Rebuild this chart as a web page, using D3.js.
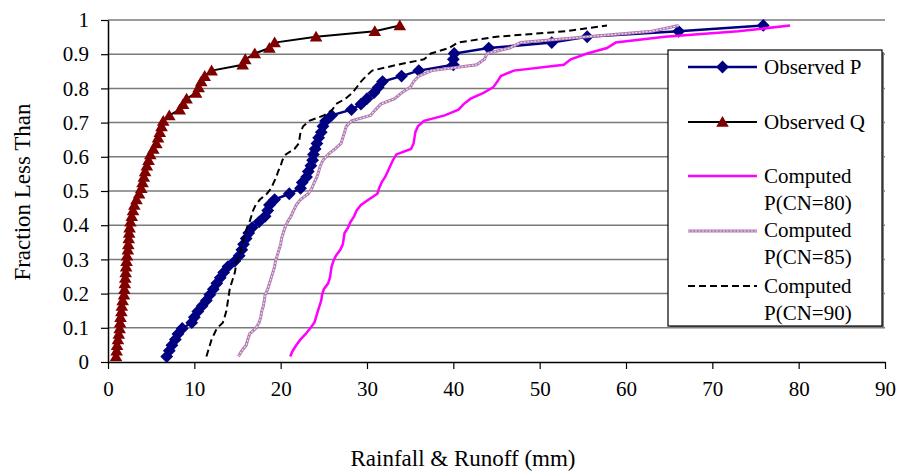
<!DOCTYPE html>
<html><head><meta charset="utf-8">
<script src="https://cdn.jsdelivr.net/npm/d3@7"></script>
<style>body{margin:0;background:#fff} svg{display:block}</style>
</head><body><svg id="c" width="902" height="473"></svg>
<script>
const fractions = [0.016,0.033,0.049,0.066,0.082,0.098,0.115,0.131,0.148,0.164,
  0.180,0.197,0.213,0.230,0.246,0.262,0.279,0.295,0.311,0.328,
  0.344,0.361,0.377,0.393,0.410,0.426,0.443,0.459,0.475,0.492,
  0.508,0.525,0.541,0.557,0.574,0.590,0.607,0.623,0.639,0.656,
  0.672,0.689,0.705,0.721,0.738,0.754,0.770,0.787,0.803,0.820,
  0.836,0.852,0.869,0.885,0.902,0.918,0.934,0.951,0.967,0.984];
const observedP = [6.8,7.1,7.4,7.8,8.1,8.6,9.7,10.0,10.4,10.9,
  11.4,11.8,12.2,12.6,13.0,13.4,13.9,14.7,15.2,15.5,
  15.7,16.0,16.3,16.7,17.5,18.2,18.5,18.7,19.3,21.0,
  22.3,22.5,23.0,23.2,23.5,23.7,23.8,24.0,24.2,24.4,
  24.7,24.9,25.2,25.9,28.2,29.3,30.0,30.8,31.3,31.8,
  34.0,36.0,40.0,40.0,40.1,44.1,51.4,55.5,66.1,75.9];
const observedQ = [0.93,1.0,1.05,1.15,1.25,1.35,1.4,1.45,1.55,1.6,
  1.7,1.85,1.9,1.95,2.0,2.05,2.1,2.15,2.2,2.3,
  2.35,2.4,2.45,2.5,2.6,2.75,2.9,3.05,3.3,3.6,
  3.85,4.0,4.15,4.3,4.5,4.7,4.9,5.25,5.6,5.8,
  6.0,6.2,6.4,7.1,8.3,8.7,9.1,10.2,10.5,10.8,
  11.2,12.0,15.6,15.9,17.0,18.7,19.3,24.1,30.9,33.8];
const computedCN80 = [21.1,21.4,21.8,22.3,22.9,23.4,23.9,24.1,24.3,24.5,
  24.7,24.8,25.0,25.5,25.7,25.8,25.9,26.1,26.4,26.9,
  27.2,27.3,27.4,27.8,28.1,28.5,28.8,29.3,30.2,31.2,
  31.4,31.7,32.1,32.4,32.7,33.0,33.4,35.1,35.4,35.5,
  35.6,35.9,36.6,39.0,40.6,41.2,42.0,43.5,44.6,45.1,
  45.5,47.0,52.8,53.6,55.5,57.8,58.8,64.5,73.0,79.0];
const computedCN85 = [15.1,15.5,16.0,16.2,16.4,17.1,17.5,17.7,17.8,18.0,
  18.1,18.2,18.5,18.7,18.9,19.1,19.3,19.4,19.6,19.8,
  20.0,20.1,20.3,20.5,20.8,21.2,21.5,21.8,22.3,23.2,
  23.6,23.9,24.2,24.4,24.6,24.9,25.5,26.3,27.0,27.2,
  27.4,27.6,28.2,30.4,31.0,31.6,33.2,34.0,35.0,35.4,
  36.0,37.5,42.7,43.6,43.9,46.5,47.8,55.5,63.0,66.1];
const computedCN90 = [11.4,11.6,11.8,12.0,12.3,12.6,13.3,13.5,13.7,13.8,
  13.9,14.0,14.1,14.3,14.5,14.7,14.8,14.9,15.2,15.4,
  15.6,15.7,15.9,16.1,16.4,16.6,16.8,17.1,17.6,18.4,
  18.9,19.2,19.5,19.7,20.0,20.2,20.6,21.6,22.1,22.2,
  22.3,22.6,23.3,25.0,26.0,26.4,27.5,28.3,28.8,29.3,
  29.9,30.6,33.5,36.6,37.4,39.5,40.5,45.0,53.0,57.8];
const xTicks = [0,10,20,30,40,50,60,70,80,90];
const yTicks = [0,0.1,0.2,0.3,0.4,0.5,0.6,0.7,0.8,0.9,1];
const seriesNames = ["Observed P","Observed Q","Computed P(CN=80)","Computed P(CN=85)","Computed P(CN=90)"];
const xTitle = "Rainfall & Runoff (mm)";
const yTitle = "Fraction Less Than";

const FONT = "'Liberation Serif','Times New Roman',serif";
const svg = d3.select("#c");
const x = d3.scaleLinear().domain([0,90]).range([108,885]);
const y = d3.scaleLinear().domain([0,1]).range([362,20]);

// gridlines
svg.append("g").selectAll("line").data(yTicks.filter(d=>d>0)).join("line")
  .attr("x1",x(0)).attr("x2",x(90)).attr("y1",d=>y(d)).attr("y2",d=>y(d))
  .attr("stroke","#7a7a7a").attr("stroke-width",1.5);

// axes
const xAxis = svg.append("g").attr("transform",`translate(0,${y(0)})`)
  .call(d3.axisBottom(x).tickValues(xTicks).tickSize(7).tickSizeOuter(0).tickPadding(12).tickFormat(d=>String(d)));
const yAxis = svg.append("g").attr("transform",`translate(${x(0)},0)`)
  .call(d3.axisLeft(y).tickValues(yTicks).tickSize(7).tickSizeOuter(0).tickPadding(12).tickFormat(d=>String(d)));
[xAxis,yAxis].forEach(a=>{
  a.selectAll("path").attr("stroke","#000").attr("stroke-width",1.5);
  a.selectAll("line").attr("stroke","#000").attr("stroke-width",1.2);
  a.selectAll("text").attr("font-family",FONT).attr("font-size",21).attr("fill","#000");
});

// series data
const mk = arr => arr.map((v,i)=>({x:v,y:fractions[i]}));
const line = d3.line().x(d=>x(d.x)).y(d=>y(d.y));
const diamond = s => `M0,${-s}L${s},0L0,${s}L${-s},0Z`;
const triangle = s => `M0,${-s}L${s*1.05},${s*0.8}L${-s*1.05},${s*0.8}Z`;

const gS = svg.append("g");
// Observed P
gS.append("path").datum(mk(observedP)).attr("d",line).attr("fill","none").attr("stroke","#000080").attr("stroke-width",2.5);
gS.append("g").selectAll("path").data(mk(observedP)).join("path")
  .attr("transform",d=>`translate(${x(d.x)},${y(d.y)})`).attr("d",diamond(6.4)).attr("fill","#000080");
// Observed Q
gS.append("path").datum(mk(observedQ)).attr("d",line).attr("fill","none").attr("stroke","#000").attr("stroke-width",2);
gS.append("g").selectAll("path").data(mk(observedQ)).join("path")
  .attr("transform",d=>`translate(${x(d.x)},${y(d.y)})`).attr("d",triangle(6)).attr("fill","#800000");
// CN80
gS.append("path").datum(mk(computedCN80)).attr("d",line).attr("fill","none").attr("stroke","#ff00ff").attr("stroke-width",2.5);
// CN85
gS.append("path").datum(mk(computedCN85)).attr("d",line).attr("fill","none").attr("stroke","#b07ab0").attr("stroke-width",3);
gS.append("path").datum(mk(computedCN85)).attr("d",line).attr("fill","none").attr("stroke","#f0dcf0").attr("stroke-width",1.2).attr("stroke-dasharray","2,1.5");
// CN90
gS.append("path").datum(mk(computedCN90)).attr("d",line).attr("fill","none").attr("stroke","#000").attr("stroke-width",2).attr("stroke-dasharray","7,4");

// axis titles
svg.append("text").attr("x",463).attr("y",466).attr("text-anchor","middle")
  .attr("font-family",FONT).attr("font-size",23).text(xTitle);
svg.append("text").attr("transform",`translate(30,192) rotate(-90)`).attr("text-anchor","middle")
  .attr("font-family",FONT).attr("font-size",23).text(yTitle);

// legend
const lg = svg.append("g");
lg.append("rect").attr("x",670).attr("y",52).attr("width",214).attr("height",276).attr("fill","#808080");
lg.append("rect").attr("x",668).attr("y",50).attr("width",214).attr("height",276).attr("fill","#fff").attr("stroke","#000").attr("stroke-width",1.2);
const entries = [
  {name:seriesNames[0], ly:67, lines:[67]},
  {name:seriesNames[1], ly:122, lines:[122]},
  {name:seriesNames[2], ly:176, lines:[176,203]},
  {name:seriesNames[3], ly:231, lines:[230,257]},
  {name:seriesNames[4], ly:286, lines:[286,313]}
];
entries.forEach((e,i)=>{
  const g = lg.append("g");
  const l = g.append("line").attr("x1",688).attr("x2",757).attr("y1",e.ly).attr("y2",e.ly);
  if(i===0){ l.attr("stroke","#000080").attr("stroke-width",2.5);
    g.append("path").attr("transform",`translate(722.5,${e.ly})`).attr("d",diamond(6.4)).attr("fill","#000080"); }
  if(i===1){ l.attr("stroke","#000").attr("stroke-width",2);
    g.append("path").attr("transform",`translate(722.5,${e.ly})`).attr("d",triangle(6)).attr("fill","#800000"); }
  if(i===2){ l.attr("stroke","#ff00ff").attr("stroke-width",2.5); }
  if(i===3){ l.attr("stroke","#b07ab0").attr("stroke-width",3);
    g.append("line").attr("x1",688).attr("x2",757).attr("y1",e.ly).attr("y2",e.ly).attr("stroke","#f0dcf0").attr("stroke-width",1.2).attr("stroke-dasharray","2,1.5"); }
  if(i===4){ l.attr("stroke","#000").attr("stroke-width",2).attr("stroke-dasharray","7,4"); }
  const parts = e.lines.length===1 ? [e.name] : [e.name.slice(0,8), e.name.slice(9)];
  parts.forEach((t,j)=>{
    g.append("text").attr("x",764).attr("y",e.lines[j]).attr("dy","0.35em")
      .attr("font-family",FONT).attr("font-size",21).text(t);
  });
});
</script></body></html>
